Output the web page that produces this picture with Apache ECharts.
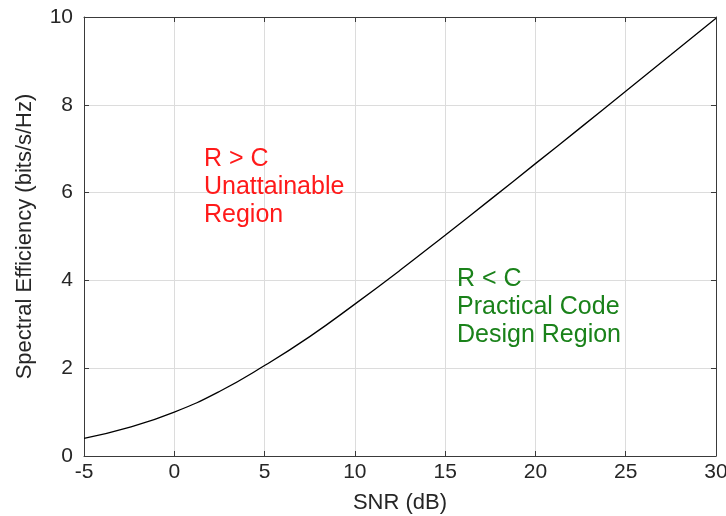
<!doctype html>
<html>
	<head>
		<meta charset="utf-8">
		<title>Spectral Efficiency</title>
		<style>
			html, body { margin: 0; padding: 0; background: #fff; }
		</style>
	</head>
	<body>
		<div id="container" style="height: 516px; width: 726px;"></div>

		<script src="https://cdn.jsdelivr.net/npm/echarts@6/dist/echarts.min.js"></script>

		<script>
			// values
			var snrDb = [-5, -2.5, 0, 2.5, 5, 7.5, 10, 12.5, 15, 17.5, 20, 22.5, 25, 27.5, 30];
			var efficiency = [0.40, 0.65, 1.00, 1.47, 2.06, 2.72, 3.46, 4.23, 5.03, 5.84, 6.66, 7.48, 8.31, 9.14, 9.97];

			var upperText = ['R > C', 'Unattainable', 'Region'];
			var lowerText = ['R < C', 'Practical Code', 'Design Region'];

			var font = 'Liberation Sans, Arial, sans-serif';
			var textColor = '#262626';

			var points = snrDb.map(function(x, i) { return [x, efficiency[i]]; });

			function axisBase() {
				return {
					type: 'value',
					axisLine: { show: true, onZero: false, lineStyle: { color: '#3a3a3a', width: 1 } },
					axisTick: { show: true, inside: true, length: 5, lineStyle: { color: '#3a3a3a' } },
					splitLine: { show: true, lineStyle: { color: '#dcdcdc', width: 1 } },
					axisLabel: { color: textColor, fontSize: 21, fontFamily: font },
					nameTextStyle: { color: textColor, fontSize: 22, fontFamily: font }
				};
			}

			var dom = document.getElementById('container');
			var myChart = echarts.init(dom, null, { renderer: 'canvas' });

			var xAxis = axisBase();
			xAxis.min = -5;
			xAxis.max = 30;
			xAxis.interval = 5;
			xAxis.name = 'SNR (dB)';
			xAxis.nameLocation = 'middle';
			xAxis.nameGap = 36;
			xAxis.axisLabel.margin = 6;

			var xTop = axisBase();
			xTop.min = -5; xTop.max = 30; xTop.interval = 5;
			xTop.position = 'top';
			xTop.axisLabel = { show: false };
			xTop.splitLine = { show: false };

			var yAxis = axisBase();
			yAxis.min = 0;
			yAxis.max = 10;
			yAxis.interval = 2;
			yAxis.name = 'Spectral Efficiency (bits/s/Hz)';
			yAxis.nameLocation = 'middle';
			yAxis.nameGap = 48;
			yAxis.axisLabel.margin = 11;

			var yRight = axisBase();
			yRight.min = 0; yRight.max = 10; yRight.interval = 2;
			yRight.position = 'right';
			yRight.axisLabel = { show: false };
			yRight.splitLine = { show: false };

			var opts = {
				animation: false,
				backgroundColor: '#fff',
				grid: {
					left: 84,
					right: 10,
					top: 17,
					bottom: 60,
					outerBoundsMode: 'none',
					containLabel: false
				},
				xAxis: [xAxis, xTop],
				yAxis: [yAxis, yRight],
				graphic: [
					{
						type: 'text',
						z: 100,
						left: 204,
						top: 145,
						style: {
							text: upperText.join('\n'),
							fill: '#ff1a1a',
							font: '25px ' + font,
							lineHeight: 28
						}
					},
					{
						type: 'text',
						z: 100,
						left: 457,
						top: 265,
						style: {
							text: lowerText.join('\n'),
							fill: '#1a821a',
							font: '25px ' + font,
							lineHeight: 28
						}
					}
				],
				series: [
					{
						name: 'capacity',
						type: 'line',
						smooth: true,
						showSymbol: false,
						lineStyle: { color: '#000', width: 1.3 },
						data: points
					}
				]
			};

			myChart.setOption(opts, true);
		</script>
	</body>
</html>
